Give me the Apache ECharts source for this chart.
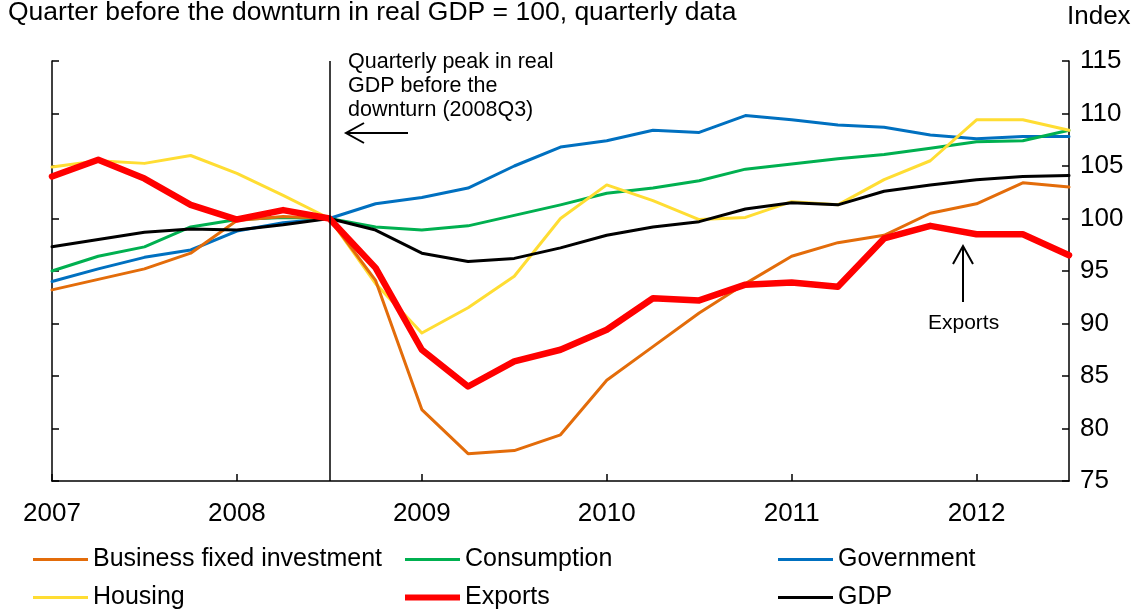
<!DOCTYPE html>
<html>
<head>
<meta charset="utf-8">
<script src="https://cdn.jsdelivr.net/npm/echarts@6/dist/echarts.min.js"></script>
<style>
  html, body { margin: 0; padding: 0; background: #fff; }
  #chart { width: 1143px; height: 614px; }
</style>
</head>
<body>
<div id="chart"></div>
<script>
// quarters 2007Q1 .. 2012Q3
const quarters = ['2007Q1','2007Q2','2007Q3','2007Q4','2008Q1','2008Q2','2008Q3','2008Q4',
  '2009Q1','2009Q2','2009Q3','2009Q4','2010Q1','2010Q2','2010Q3','2010Q4',
  '2011Q1','2011Q2','2011Q3','2011Q4','2012Q1','2012Q2','2012Q3']

const bfi = [93.2, 94.2, 95.2, 96.7, 99.8, 100.2, 100, 94.1, 81.8, 77.6, 77.9, 79.4,
  84.6, 87.8, 91.0, 93.8, 96.4, 97.7, 98.4, 100.5, 101.4, 103.4, 103.0]
const consumption = [95.0, 96.4, 97.3, 99.2, 99.9, 100.1, 100, 99.2, 98.9, 99.3, 100.3, 101.3,
  102.4, 102.9, 103.6, 104.7, 105.2, 105.7, 106.1, 106.7, 107.3, 107.4, 108.4]
const government = [94.0, 95.2, 96.3, 97.0, 98.8, 99.6, 100, 101.4, 102.0, 102.9, 105.0, 106.8,
  107.4, 108.4, 108.2, 109.8, 109.4, 108.9, 108.7, 107.95, 107.6, 107.8, 107.8]
const housing = [104.9, 105.5, 105.25, 106.0, 104.3, 102.2, 100, 93.8, 89.1, 91.5, 94.5, 100.0,
  103.2, 101.7, 99.9, 100.1, 101.6, 101.3, 103.7, 105.5, 109.4, 109.4, 108.4]
const exportsData = [104.0, 105.6, 103.8, 101.3, 99.9, 100.8, 100, 95.3, 87.5, 84.0, 86.4, 87.5,
  89.4, 92.4, 92.2, 93.7, 93.9, 93.5, 98.1, 99.3, 98.5, 98.5, 96.5]
const gdp = [97.3, 98.0, 98.7, 99.0, 98.9, 99.4, 100, 98.9, 96.7, 95.9, 96.2, 97.2,
  98.4, 99.2, 99.7, 100.9, 101.5, 101.3, 102.6, 103.2, 103.7, 104.0, 104.1]

const peakQuarter = '2008Q3'

const chart = echarts.init(document.getElementById('chart'))

const font = 'Liberation Sans, Arial, sans-serif'

const legendItem = (name, left, top, h) => ({
  data: [name],
  left: left,
  top: top,
  padding: 0,
  icon: 'rect',
  itemWidth: 55,
  itemHeight: h,
  selectedMode: false,
  textStyle: { fontFamily: font, fontSize: 25, color: '#000' }
})

const lineSeries = (name, data, color, width) => ({
  name: name,
  type: 'line',
  data: data,
  symbol: 'none',
  yAxisIndex: 0,
  lineStyle: { color: color, width: width, join: 'round', cap: 'round' },
  itemStyle: { color: color },
  emphasis: { disabled: true },
  animation: false
})

const gdpSeries = lineSeries('GDP', gdp, '#000000', 3)
gdpSeries.markLine = {
  silent: true,
  symbol: 'none',
  label: { show: false },
  lineStyle: { color: '#000', width: 1.5, type: 'solid' },
  data: [{ xAxis: peakQuarter }]
}

chart.setOption({
  backgroundColor: '#fff',
  animation: false,
  grid: { left: 52, right: 74, top: 61, bottom: 133 },
  legend: [
    legendItem('Business fixed investment', 33, 547, 3),
    legendItem('Consumption', 405, 547, 3),
    legendItem('Government', 778, 547, 3),
    legendItem('Housing', 33, 585, 3),
    legendItem('Exports', 405, 585, 6),
    legendItem('GDP', 778, 585, 3)
  ],
  xAxis: {
    type: 'category',
    data: quarters,
    boundaryGap: false,
    axisLine: { lineStyle: { color: '#000', width: 1.5 } },
    axisTick: { inside: true, length: 7, interval: 3, lineStyle: { color: '#000', width: 1.5 } },
    axisLabel: {
      interval: 3,
      margin: 20,
      fontFamily: font,
      fontSize: 26,
      color: '#000',
      formatter: v => v.slice(0, 4)
    },
    splitLine: { show: false }
  },
  yAxis: [
    {
      type: 'value',
      position: 'right',
      min: 75, max: 115, interval: 5,
      axisLine: { show: true, lineStyle: { color: '#000', width: 1.5 } },
      axisTick: { show: true, inside: true, length: 7, lineStyle: { color: '#000', width: 1.5 } },
      axisLabel: { margin: 11, fontFamily: font, fontSize: 26, color: '#000' },
      splitLine: { show: false }
    },
    {
      type: 'value',
      position: 'left',
      min: 75, max: 115, interval: 5,
      axisLine: { show: true, lineStyle: { color: '#000', width: 1.5 } },
      axisTick: { show: true, inside: true, length: 7, lineStyle: { color: '#000', width: 1.5 } },
      axisLabel: { show: false },
      splitLine: { show: false }
    }
  ],
  series: [
    lineSeries('Government', government, '#0070C0', 3),
    lineSeries('Consumption', consumption, '#00B050', 3),
    lineSeries('Housing', housing, '#FFDD33', 3),
    lineSeries('Business fixed investment', bfi, '#E36C0A', 3),
    gdpSeries,
    lineSeries('Exports', exportsData, '#FF0000', 6.5)
  ],
  graphic: [
    { type: 'text', left: 8, top: -1,
      style: { text: 'Quarter before the downturn in real GDP = 100, quarterly data', font: '26.5px ' + font, fill: '#000' } },
    { type: 'text', left: 1067, top: 4,
      style: { text: 'Index', font: '26px ' + font, fill: '#000' } },
    { type: 'text', left: 348, top: 50,
      style: { text: 'Quarterly peak in real\nGDP before the\ndownturn (2008Q3)', font: '21.5px ' + font, lineHeight: 24, fill: '#000' } },
    { type: 'line', shape: { x1: 346, y1: 133, x2: 408, y2: 133 }, style: { stroke: '#000', lineWidth: 2 } },
    { type: 'polyline', shape: { points: [[364, 123], [346, 133], [364, 143]] }, style: { stroke: '#000', lineWidth: 2, fill: null } },
    { type: 'line', shape: { x1: 963, y1: 246, x2: 963, y2: 302 }, style: { stroke: '#000', lineWidth: 2 } },
    { type: 'polyline', shape: { points: [[953, 264], [963, 246], [973, 264]] }, style: { stroke: '#000', lineWidth: 2, fill: null } },
    { type: 'text', left: 928, top: 313,
      style: { text: 'Exports', font: '21px ' + font, fill: '#000' } }
  ]
})
</script>
</body>
</html>
